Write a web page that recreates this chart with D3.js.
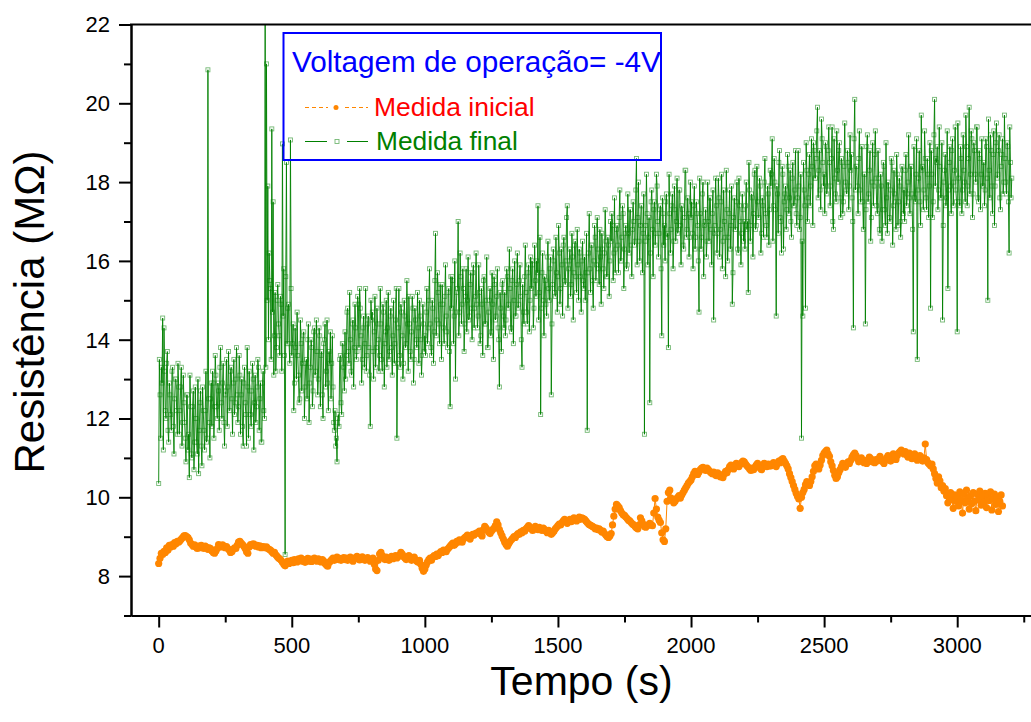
<!DOCTYPE html>
<html>
<head>
<meta charset="utf-8">
<script src="https://cdn.jsdelivr.net/npm/d3@7"></script>
<style>
  html, body { margin: 0; padding: 0; background: #fff; }
  svg { display: block; font-family: Arial, "Liberation Sans", sans-serif; }
</style>
</head>
<body>
<svg id="chart" width="1031" height="722"></svg>
<script>
// Sampling interval (s) of each measurement run
const inicialStep = 5;
const finalStep = 2.5;

// Medida inicial: resistance (MΩ), one reading every 5 s from t = 0
const inicialValues = [
  8.32, 8.45, 8.58, 8.55, 8.63, 8.60, 8.72, 8.66, 8.78, 8.74, 8.80, 8.76, 8.85, 8.82, 8.88, 8.86, 8.90, 8.94, 8.98, 9.02,
  9.03, 9.00, 8.98, 8.92, 8.84, 8.80, 8.76, 8.79, 8.74, 8.70, 8.76, 8.72, 8.78, 8.74, 8.70, 8.76, 8.73, 8.68, 8.72, 8.70,
  8.64, 8.60, 8.58, 8.64, 8.70, 8.80, 8.78, 8.74, 8.79, 8.76, 8.72, 8.75, 8.70, 8.66, 8.60, 8.62, 8.68, 8.72, 8.70, 8.78,
  8.86, 8.88, 8.84, 8.80, 8.76, 8.70, 8.62, 8.58, 8.74, 8.80, 8.78, 8.82, 8.80, 8.76, 8.78, 8.74, 8.77, 8.72, 8.75, 8.74,
  8.72, 8.74, 8.70, 8.68, 8.66, 8.62, 8.58, 8.60, 8.54, 8.50, 8.46, 8.44, 8.40, 8.35, 8.30, 8.26, 8.34, 8.38, 8.32, 8.36,
  8.40, 8.34, 8.42, 8.38, 8.36, 8.44, 8.40, 8.46, 8.38, 8.42, 8.35, 8.40, 8.45, 8.38, 8.43, 8.37, 8.41, 8.46, 8.42, 8.38,
  8.44, 8.40, 8.36, 8.42, 8.38, 8.32, 8.28, 8.25, 8.34, 8.38, 8.42, 8.46, 8.40, 8.44, 8.48, 8.42, 8.45, 8.40, 8.44, 8.47,
  8.42, 8.46, 8.40, 8.45, 8.48, 8.43, 8.38, 8.44, 8.47, 8.50, 8.45, 8.41, 8.46, 8.49, 8.44, 8.40, 8.43, 8.47, 8.42, 8.38,
  8.42, 8.46, 8.30, 8.18, 8.14, 8.40, 8.56, 8.60, 8.52, 8.46, 8.42, 8.48, 8.44, 8.40, 8.46, 8.50, 8.44, 8.48, 8.52, 8.46,
  8.50, 8.54, 8.60, 8.56, 8.50, 8.46, 8.42, 8.48, 8.52, 8.46, 8.40, 8.44, 8.48, 8.42, 8.38, 8.35, 8.40, 8.30, 8.20, 8.12,
  8.18, 8.28, 8.36, 8.42, 8.46, 8.40, 8.48, 8.52, 8.50, 8.56, 8.52, 8.58, 8.62, 8.60, 8.66, 8.64, 8.62, 8.68, 8.72, 8.76,
  8.80, 8.84, 8.78, 8.82, 8.88, 8.86, 8.92, 8.90, 8.86, 8.94, 8.98, 9.00, 9.04, 8.98, 8.94, 9.02, 9.06, 9.04, 9.08, 9.10,
  9.10, 9.14, 9.06, 9.02, 9.18, 9.26, 9.22, 9.16, 9.12, 9.08, 9.14, 9.18, 9.22, 9.28, 9.38, 9.30, 9.18, 9.10, 9.02, 8.94,
  8.86, 8.80, 8.76, 8.82, 8.88, 8.92, 8.96, 9.00, 8.98, 9.04, 9.08, 9.06, 9.12, 9.10, 9.16, 9.14, 9.20, 9.24, 9.28, 9.22,
  9.20, 9.16, 9.22, 9.26, 9.20, 9.18, 9.24, 9.20, 9.16, 9.22, 9.18, 9.14, 9.10, 9.16, 9.12, 9.06, 9.10, 9.14, 9.20, 9.24,
  9.28, 9.32, 9.30, 9.36, 9.40, 9.44, 9.38, 9.34, 9.40, 9.44, 9.38, 9.42, 9.48, 9.44, 9.40, 9.46, 9.50, 9.44, 9.48, 9.46,
  9.44, 9.40, 9.36, 9.32, 9.30, 9.28, 9.26, 9.24, 9.20, 9.22, 9.18, 9.20, 9.16, 9.12, 9.14, 9.08, 9.04, 9.00, 8.98, 9.02,
  9.08, 9.30, 9.52, 9.70, 9.82, 9.78, 9.74, 9.66, 9.60, 9.56, 9.54, 9.50, 9.46, 9.42, 9.40, 9.36, 9.32, 9.30, 9.26, 9.22,
  9.20, 9.30, 9.48, 9.40, 9.32, 9.26, 9.24, 9.28, 9.30, 9.34, 9.30, 9.28, 9.60, 9.97, 9.70, 9.50, 9.42, 9.36, 9.10, 8.92,
  8.88, 9.20, 9.90, 10.12, 10.18, 9.98, 9.92, 9.86, 9.90, 9.96, 10.00, 10.04, 9.98, 10.06, 10.12, 10.18, 10.24, 10.30, 10.36, 10.40,
  10.44, 10.52, 10.60, 10.66, 10.62, 10.58, 10.64, 10.70, 10.74, 10.76, 10.72, 10.68, 10.74, 10.70, 10.66, 10.62, 10.60, 10.64, 10.58, 10.55,
  10.62, 10.58, 10.52, 10.56, 10.50, 10.60, 10.66, 10.62, 10.70, 10.78, 10.82, 10.76, 10.72, 10.80, 10.86, 10.82, 10.78, 10.84, 10.88, 10.92,
  10.90, 10.84, 10.80, 10.76, 10.72, 10.68, 10.74, 10.70, 10.76, 10.82, 10.86, 10.80, 10.74, 10.70, 10.78, 10.86, 10.82, 10.78, 10.84, 10.80,
  10.80, 10.84, 10.88, 10.82, 10.78, 10.86, 10.92, 10.88, 10.96, 10.98, 10.92, 10.86, 10.80, 10.72, 10.60, 10.50, 10.40, 10.30, 10.20, 10.10,
  10.02, 9.96, 9.72, 10.00, 10.12, 10.20, 10.32, 10.40, 10.36, 10.30, 10.40, 10.52, 10.66, 10.80, 10.84, 10.76, 10.72, 10.82, 10.94, 11.06,
  11.12, 11.16, 11.20, 11.10, 11.04, 10.90, 10.80, 10.68, 10.56, 10.48, 10.52, 10.62, 10.70, 10.78, 10.86, 10.82, 10.76, 10.84, 10.90, 10.86,
  10.94, 11.02, 11.08, 11.12, 11.06, 10.98, 10.90, 10.96, 11.00, 10.94, 10.88, 10.92, 10.86, 10.96, 11.02, 10.98, 10.90, 10.94, 10.88, 10.96,
  10.92, 10.98, 11.04, 10.96, 10.90, 10.86, 10.94, 11.00, 11.06, 10.98, 10.92, 11.04, 11.10, 11.02, 10.96, 11.06, 11.12, 11.16, 11.20, 11.14,
  11.10, 11.16, 11.08, 11.02, 11.12, 11.06, 10.98, 11.04, 11.10, 11.00, 10.94, 11.02, 11.06, 10.98, 10.92, 11.00, 11.35, 10.96, 10.88, 10.84,
  10.80, 10.84, 10.72, 10.60, 10.48, 10.36, 10.52, 10.42, 10.24, 10.30, 10.16, 10.22, 10.04, 9.86, 9.98, 10.12, 9.94, 9.72, 10.06, 9.90,
  10.02, 9.78, 10.14, 9.92, 9.60, 10.08, 9.86, 10.18, 9.96, 9.70, 10.04, 9.84, 10.12, 9.90, 9.66, 10.08, 9.94, 10.16, 9.80, 10.02,
  9.88, 10.10, 9.74, 10.04, 9.92, 10.14, 9.68, 9.96, 10.08, 9.82, 10.00, 9.64, 9.90, 10.06, 9.78
];

// Medida final: resistance (MΩ), one reading every 2.5 s from t = 0 (40 readings per row)
const finalValues = [
  10.35, 13.5, 12.6, 11.5, 13.3, 12.9, 14.55, 11.2, 14.3, 13.2, 12.2, 12.0, 13.4, 13.7, 11.7, 11.4, 12.9, 12.6, 12.1, 11.7, 13.2, 13.3, 11.8, 11.1, 12.5, 13.0, 13.0, 12.2, 11.6, 13.4, 12.8, 11.6, 12.2, 12.8, 13.3, 11.3, 11.9, 13.1, 12.4, 11.9,
  11.5, 10.9, 12.6, 12.6, 11.2, 11.6, 10.5, 13.1, 12.3, 11.1, 11.0, 12.3, 12.7, 10.7, 11.4, 12.8, 12.0, 11.4, 11.1, 13.0, 10.6, 11.7, 12.4, 12.7, 11.3, 10.8, 12.8, 12.2, 11.7, 11.2, 12.2, 13.2, 11.4, 11.5, 20.85, 12.5, 11.9, 11.0, 12.5, 12.9,
  11.8, 13.2, 12.9, 11.5, 12.3, 13.6, 13.1, 12.3, 12.0, 12.9, 12.7, 11.7, 13.3, 13.8, 12.4, 12.0, 12.9, 13.4, 11.9, 11.3, 12.6, 12.7, 13.5, 11.8, 12.8, 13.7, 12.2, 12.2, 13.2, 13.3, 12.5, 11.6, 12.9, 13.5, 12.1, 12.4, 13.0, 13.8, 12.6, 11.9,
  12.3, 13.6, 13.1, 11.6, 12.6, 13.0, 11.8, 11.3, 12.9, 13.3, 12.4, 12.1, 11.3, 13.8, 12.8, 11.5, 13.2, 12.7, 12.1, 11.8, 12.7, 13.4, 13.0, 11.2, 12.4, 13.1, 11.9, 12.3, 12.8, 13.5, 13.3, 11.7, 12.5, 12.9, 11.4, 11.4, 12.9, 13.2, 12.2, 12.0,
  23.5, 13.3, 21.0, 15.0, 17.9, 14.0, 16.2, 15.5, 15.3, 13.5, 19.35, 14.7, 17.5, 13.1, 14.1, 15.2, 13.2, 13.8, 15.0, 15.4, 14.4, 14.1, 13.6, 15.1, 14.9, 13.2, 18.97, 14.6, 15.8, 13.6, 8.55, 15.6, 18.5, 13.9, 14.8, 14.9, 13.9, 13.4, 19.07, 15.3,
  13.6, 13.9, 14.4, 12.2, 12.9, 14.3, 13.8, 13.0, 14.7, 13.6, 13.1, 12.4, 12.5, 14.5, 13.9, 12.7, 13.4, 14.1, 14.2, 12.0, 12.8, 13.4, 13.5, 12.5, 14.0, 14.4, 11.9, 12.9, 13.3, 14.0, 13.8, 12.3, 12.7, 14.2, 14.3, 13.1, 13.2, 14.5, 13.7, 12.6,
  13.0, 14.3, 14.1, 12.3, 13.6, 13.7, 12.6, 12.0, 13.9, 14.0, 14.4, 12.8, 13.2, 14.5, 12.9, 12.2, 13.7, 13.4, 14.2, 12.5, 13.4, 14.1, 12.8, 11.9, 11.7, 12.2, 11.3, 11.5, 10.9, 12.0, 12.1, 11.8, 13.5, 13.6, 12.4, 12.1, 13.9, 13.9, 13.3, 12.7,
  14.2, 13.0, 13.6, 14.7, 14.8, 13.7, 13.4, 15.2, 14.0, 13.2, 13.1, 14.4, 14.5, 12.8, 13.8, 14.9, 14.3, 13.5, 13.7, 15.1, 14.9, 13.8, 15.3, 14.8, 14.1, 12.9, 13.5, 14.3, 14.6, 13.3, 13.9, 15.3, 13.2, 13.6, 14.4, 14.6, 13.8, 13.1, 11.8, 15.0,
  14.5, 14.7, 13.7, 13.0, 14.2, 15.1, 13.3, 13.8, 14.8, 14.4, 14.0, 13.2, 13.6, 15.3, 14.4, 13.5, 13.2, 14.9, 14.7, 12.8, 13.9, 14.2, 15.0, 13.3, 14.3, 15.2, 13.5, 13.7, 14.6, 14.8, 13.8, 13.1, 14.1, 15.0, 13.4, 13.9, 14.5, 15.3, 11.5, 13.4,
  14.3, 15.3, 13.6, 13.3, 14.9, 14.7, 14.1, 13.0, 13.4, 15.0, 14.6, 13.8, 13.9, 15.5, 14.4, 13.2, 15.1, 14.4, 13.7, 13.5, 14.2, 15.1, 14.8, 12.9, 13.5, 14.8, 14.5, 14.0, 13.8, 15.2, 14.3, 13.4, 15.0, 14.6, 14.0, 13.1, 13.6, 14.9, 14.4, 13.7,
  14.1, 13.6, 14.7, 15.3, 13.9, 14.3, 15.0, 15.8, 14.4, 13.8, 13.6, 15.0, 14.8, 13.4, 14.2, 15.5, 16.7, 14.1, 14.5, 15.7, 15.2, 14.4, 13.9, 15.4, 14.9, 13.5, 15.4, 14.9, 14.3, 13.9, 15.1, 15.9, 14.6, 14.2, 13.8, 15.2, 15.3, 13.7, 12.3, 15.6,
  14.8, 15.6, 15.5, 13.9, 14.6, 16.0, 13.0, 14.7, 15.2, 15.3, 17.0, 14.1, 14.7, 16.2, 15.6, 14.4, 14.9, 15.8, 15.3, 13.7, 14.4, 15.1, 15.8, 14.2, 15.0, 16.1, 14.5, 14.6, 15.4, 15.7, 14.8, 14.0, 15.7, 15.9, 14.3, 14.8, 15.1, 16.2, 14.9, 14.3,
  14.6, 15.9, 15.2, 13.9, 14.1, 15.3, 14.9, 13.6, 15.5, 15.6, 14.4, 14.4, 15.0, 16.1, 13.8, 13.8, 14.7, 15.0, 15.3, 14.1, 14.2, 15.7, 14.9, 13.5, 15.6, 15.4, 14.5, 14.6, 15.1, 15.8, 14.3, 14.0, 12.8, 15.2, 14.8, 13.7, 15.4, 15.5, 14.6, 14.3,
  15.2, 14.1, 14.5, 15.8, 15.6, 14.8, 14.9, 16.3, 15.3, 14.3, 14.2, 15.5, 15.8, 13.9, 15.0, 16.0, 14.6, 14.6, 15.4, 16.2, 14.8, 14.9, 15.5, 15.9, 15.1, 14.0, 13.3, 15.4, 14.7, 14.4, 15.6, 16.4, 15.2, 14.7, 14.4, 15.7, 15.9, 14.2, 15.0, 16.1,
  15.3, 16.0, 15.9, 14.3, 14.8, 16.4, 15.5, 15.1, 16.0, 15.7, 17.4, 14.5, 15.2, 16.6, 12.1, 14.8, 15.7, 16.2, 15.0, 14.1, 15.6, 15.5, 14.9, 14.6, 16.1, 16.5, 15.3, 15.0, 15.8, 16.1, 12.6, 14.4, 15.4, 16.3, 16.0, 15.2, 15.1, 16.6, 15.7, 14.7,
  15.6, 16.9, 16.2, 14.9, 15.3, 16.3, 15.9, 14.6, 16.4, 16.6, 15.5, 15.4, 16.0, 17.1, 17.4, 14.8, 15.8, 16.0, 16.3, 15.1, 15.4, 16.7, 16.1, 14.5, 15.7, 16.4, 16.5, 15.6, 15.2, 16.8, 15.9, 15.0, 16.3, 16.2, 15.6, 14.7, 16.0, 16.5, 15.5, 15.3,
  16.1, 15.0, 15.7, 16.7, 11.7, 15.7, 16.2, 17.2, 15.8, 15.2, 16.4, 16.4, 15.5, 14.8, 16.0, 16.9, 16.6, 15.5, 15.9, 17.1, 16.3, 15.8, 15.4, 16.8, 16.1, 14.9, 16.7, 16.3, 15.8, 15.3, 16.2, 17.3, 16.5, 15.6, 15.6, 16.6, 16.4, 15.1, 16.0, 17.0,
  16.5, 17.2, 16.9, 15.5, 16.2, 17.6, 15.7, 16.3, 16.8, 16.9, 16.4, 15.7, 17.1, 17.8, 16.0, 16.0, 16.6, 17.4, 17.2, 15.3, 16.3, 16.7, 16.9, 15.8, 15.9, 17.7, 16.7, 16.2, 17.3, 17.3, 16.4, 15.6, 16.8, 17.5, 17.0, 16.4, 16.5, 17.8, 18.6, 15.9,
  17.1, 18.0, 16.5, 16.0, 16.9, 17.4, 17.4, 15.7, 16.7, 17.7, 11.6, 16.5, 16.9, 18.2, 17.2, 15.9, 16.6, 17.1, 12.4, 16.2, 17.5, 17.8, 16.8, 15.6, 17.3, 17.5, 16.4, 16.7, 18.2, 17.9, 17.0, 16.1, 16.7, 17.3, 17.4, 15.8, 14.1, 17.6, 17.2, 16.4,
  16.9, 16.0, 17.5, 17.7, 16.6, 16.7, 13.8, 18.2, 17.2, 16.2, 16.8, 17.4, 17.7, 15.8, 16.5, 17.9, 17.3, 16.5, 17.0, 18.1, 16.7, 16.8, 17.8, 17.8, 16.9, 15.9, 17.4, 17.3, 16.4, 16.3, 17.1, 18.3, 18.3, 16.6, 16.8, 17.6, 17.2, 16.1, 16.6, 18.0,
  17.1, 17.5, 16.7, 15.8, 17.4, 17.9, 16.3, 16.6, 17.5, 17.2, 16.9, 16.0, 14.7, 18.1, 17.2, 16.3, 16.6, 17.7, 18.0, 15.6, 16.9, 17.0, 17.3, 16.1, 16.5, 18.0, 17.0, 16.5, 17.6, 17.6, 16.8, 15.9, 17.2, 17.8, 14.5, 16.7, 16.9, 18.1, 17.4, 16.2,
  16.7, 18.1, 17.6, 16.1, 16.8, 17.5, 18.2, 15.8, 16.5, 17.8, 17.0, 16.6, 15.6, 18.3, 17.3, 16.0, 16.6, 17.2, 17.8, 16.3, 16.9, 17.9, 14.9, 15.7, 17.1, 17.6, 16.8, 16.8, 17.5, 18.0, 16.3, 16.2, 18.1, 17.4, 17.0, 15.9, 16.7, 17.7, 17.3, 16.5,
  17.0, 16.3, 17.4, 18.0, 16.8, 17.0, 15.2, 18.5, 17.8, 16.5, 16.9, 17.7, 17.6, 16.1, 17.2, 18.2, 18.3, 16.8, 16.9, 18.4, 17.5, 17.1, 17.1, 18.1, 17.9, 16.2, 16.7, 17.6, 17.4, 16.6, 18.0, 18.6, 17.2, 16.9, 16.6, 17.9, 17.7, 16.4, 17.3, 18.3,
  17.9, 18.2, 19.1, 16.5, 17.4, 18.6, 18.0, 17.3, 14.6, 17.9, 17.7, 16.7, 18.5, 18.8, 17.1, 17.0, 16.2, 18.4, 18.2, 16.3, 17.5, 17.7, 17.9, 16.8, 17.3, 18.7, 18.4, 17.2, 17.6, 18.3, 17.0, 16.6, 18.1, 18.5, 17.4, 17.4, 17.8, 18.8, 17.2, 16.9,
  17.6, 18.8, 17.9, 16.8, 17.1, 18.2, 11.5, 16.5, 14.6, 18.5, 17.8, 17.4, 14.8, 19.0, 18.3, 17.0, 17.6, 18.2, 18.7, 17.4, 17.9, 19.1, 18.4, 16.9, 19.0, 18.8, 18.1, 18.1, 18.6, 19.3, 19.9, 17.6, 18.3, 18.8, 17.8, 17.3, 19.6, 19.1, 18.5, 17.9,
  18.2, 17.2, 19.0, 18.9, 17.7, 17.9, 18.8, 19.4, 18.5, 17.4, 17.9, 18.6, 19.4, 17.0, 16.8, 19.1, 18.1, 17.7, 17.5, 19.3, 18.3, 18.0, 18.8, 19.0, 17.6, 17.1, 18.6, 18.5, 17.2, 17.5, 18.4, 19.5, 18.0, 17.8, 17.7, 18.8, 18.5, 17.3, 17.9, 19.2,
  18.3, 18.7, 17.6, 17.0, 14.3, 19.1, 20.1, 17.8, 18.4, 18.4, 17.9, 17.2, 18.6, 19.3, 17.8, 17.5, 18.9, 18.9, 17.5, 16.8, 18.2, 18.2, 14.4, 17.3, 18.9, 19.2, 17.5, 17.7, 18.3, 18.8, 16.5, 17.1, 18.0, 19.0, 17.4, 17.9, 18.7, 19.3, 18.1, 17.4,
  17.2, 18.8, 18.1, 16.8, 16.7, 18.2, 17.9, 16.5, 17.3, 18.5, 18.4, 17.3, 16.9, 19.0, 17.6, 16.7, 18.0, 17.9, 17.1, 17.0, 17.8, 18.6, 18.5, 16.4, 17.4, 18.3, 17.7, 17.5, 16.8, 18.7, 18.2, 16.9, 17.5, 18.1, 17.9, 16.6, 17.0, 18.4, 18.3, 17.2,
  17.8, 17.0, 18.3, 18.7, 17.4, 17.7, 18.0, 19.2, 17.6, 17.2, 18.4, 18.4, 17.7, 16.8, 14.2, 18.9, 17.6, 17.5, 18.2, 19.1, 13.5, 17.8, 18.1, 18.8, 17.5, 16.9, 19.7, 18.3, 18.4, 17.3, 17.8, 19.3, 18.6, 17.6, 17.3, 18.6, 18.2, 17.1, 17.9, 19.0,
  14.8, 18.8, 18.2, 17.1, 17.5, 19.2, 20.1, 17.9, 18.6, 18.5, 18.9, 17.3, 17.8, 19.4, 18.4, 17.6, 17.6, 19.0, 14.5, 16.9, 18.0, 18.3, 18.7, 17.4, 17.6, 19.3, 15.3, 17.8, 18.5, 18.9, 17.9, 17.2, 18.8, 19.1, 17.4, 18.0, 18.3, 19.4, 17.8, 17.5,
  14.2, 19.5, 18.1, 17.5, 17.4, 18.9, 18.6, 17.2, 17.8, 19.2, 18.3, 18.0, 17.5, 19.7, 18.9, 17.4, 17.9, 18.6, 19.9, 17.7, 18.2, 19.3, 19.1, 17.1, 17.7, 19.0, 18.8, 18.2, 18.0, 19.4, 19.4, 17.6, 17.5, 18.8, 18.6, 17.3, 18.2, 19.1, 17.9, 17.9,
  18.5, 17.4, 17.8, 19.1, 18.9, 18.1, 15.0, 19.6, 18.3, 17.6, 19.2, 18.8, 17.9, 17.2, 18.7, 19.3, 16.9, 17.9, 19.0, 19.5, 18.1, 18.2, 18.8, 19.2, 17.6, 17.3, 18.4, 18.7, 19.1, 17.7, 18.0, 19.7, 18.6, 18.0, 17.7, 19.0, 18.9, 17.5, 16.2, 19.4,
  18.5, 17.6, 18.1
];

// Axis ticks and labels
const xMajorTicks = [0, 500, 1000, 1500, 2000, 2500, 3000];
const xMinorTicks = [250, 750, 1250, 1750, 2250, 2750, 3250];
const yMajorTicks = [8, 10, 12, 14, 16, 18, 20, 22];
const yMinorTicks = [7, 9, 11, 13, 15, 17, 19, 21];

const xTitle = "Tempo (s)";
const yTitle = "Resistência (MΩ)";
const legendTitle = "Voltagem de operação= -4V";
const seriesNames = ["Medida inicial", "Medida final"];

const inicialData = inicialValues.map((v, i) => ({ t: i * inicialStep, v }));
const finalData = finalValues.map((v, i) => ({ t: i * finalStep, v }));

const svg = d3.select("#chart");
const plotLeft = 131, plotRight = 1032, plotTop = 24.5, plotBottom = 615.5;

const x = d3.scaleLinear().domain([-104, 3281]).range([plotLeft, plotRight]);
const y = d3.scaleLinear().domain([7, 22]).range([plotBottom, plotTop]);

const orange = "#ff8600";
const green = "#008000";
const greenSymbol = "#74b874";

svg.append("defs").append("clipPath").attr("id", "plotClip")
  .append("rect")
  .attr("x", plotLeft).attr("y", plotTop)
  .attr("width", plotRight - plotLeft).attr("height", plotBottom - plotTop);

const plot = svg.append("g").attr("clip-path", "url(#plotClip)");

const line = d3.line().x(d => x(d.t)).y(d => y(d.v));

// Medida final: open square markers with the connecting line drawn over them
plot.append("g").selectAll("rect")
  .data(finalData)
  .join("rect")
  .attr("x", d => x(d.t) - 2)
  .attr("y", d => y(d.v) - 2)
  .attr("width", 4)
  .attr("height", 4)
  .attr("fill", "#fff")
  .attr("stroke", greenSymbol)
  .attr("stroke-width", 0.9);

plot.append("path")
  .datum(finalData)
  .attr("d", line)
  .attr("fill", "none")
  .attr("stroke", green)
  .attr("stroke-width", 0.9);

// Medida inicial: line with filled circle markers
plot.append("path")
  .datum(inicialData)
  .attr("d", line)
  .attr("fill", "none")
  .attr("stroke", orange)
  .attr("stroke-width", 1);

plot.append("g").selectAll("circle")
  .data(inicialData)
  .join("circle")
  .attr("cx", d => x(d.t))
  .attr("cy", d => y(d.v))
  .attr("r", 3.6)
  .attr("fill", orange);

// Axes
const axisColor = "#000";
const xAxisMajor = d3.axisBottom(x).tickValues(xMajorTicks).tickSize(12).tickSizeOuter(0).tickFormat("");
const xAxisMinor = d3.axisBottom(x).tickValues(xMinorTicks).tickSize(7).tickSizeOuter(0).tickFormat("");
const yAxisMajor = d3.axisLeft(y).tickValues(yMajorTicks).tickSize(12).tickSizeOuter(0).tickFormat("");
const yAxisMinor = d3.axisLeft(y).tickValues(yMinorTicks).tickSize(7).tickSizeOuter(0).tickFormat("");

function styleAxis(g) {
  g.selectAll("path, line").attr("stroke", axisColor).attr("stroke-width", 2);
}

svg.append("g").attr("transform", `translate(0,${plotBottom})`).call(xAxisMinor).call(styleAxis);
svg.append("g").attr("transform", `translate(0,${plotBottom})`).call(xAxisMajor).call(styleAxis);
svg.append("g").attr("transform", `translate(${plotLeft},0)`).call(yAxisMinor).call(styleAxis);
svg.append("g").attr("transform", `translate(${plotLeft},0)`).call(yAxisMajor).call(styleAxis);

// Top frame line
svg.append("line")
  .attr("x1", plotLeft - 1).attr("x2", plotRight)
  .attr("y1", plotTop).attr("y2", plotTop)
  .attr("stroke", axisColor).attr("stroke-width", 2);

// Tick labels
svg.append("g").selectAll("text")
  .data(xMajorTicks)
  .join("text")
  .attr("x", d => x(d))
  .attr("y", 653)
  .attr("text-anchor", "middle")
  .attr("font-size", 22)
  .attr("fill", "#000")
  .text(d => d);

svg.append("g").selectAll("text")
  .data(yMajorTicks)
  .join("text")
  .attr("x", 110)
  .attr("y", d => y(d))
  .attr("dy", "0.36em")
  .attr("text-anchor", "end")
  .attr("font-size", 22)
  .attr("fill", "#000")
  .text(d => d);

// Axis titles
svg.append("text")
  .attr("x", (plotLeft + plotRight) / 2)
  .attr("y", 695)
  .attr("text-anchor", "middle")
  .attr("font-size", 41)
  .attr("fill", "#000")
  .text(xTitle);

svg.append("text")
  .attr("transform", "translate(43.5,312) rotate(-90)")
  .attr("text-anchor", "middle")
  .attr("font-size", 42)
  .attr("fill", "#000")
  .text(yTitle);

// Legend
const legend = svg.append("g");
legend.append("rect")
  .attr("x", 283.5).attr("y", 33)
  .attr("width", 377.5).attr("height", 127)
  .attr("fill", "none")
  .attr("stroke", "#0000ff")
  .attr("stroke-width", 2);

legend.append("text")
  .attr("x", 292)
  .attr("y", 71.5)
  .attr("font-size", 29.7)
  .attr("fill", "#0000ff")
  .text(legendTitle);

// Medida inicial entry
const ly1 = 107.5;
legend.append("line")
  .attr("x1", 305).attr("x2", 328).attr("y1", ly1).attr("y2", ly1)
  .attr("stroke", orange).attr("stroke-width", 1).attr("stroke-dasharray", "4,3");
legend.append("line")
  .attr("x1", 345).attr("x2", 368).attr("y1", ly1).attr("y2", ly1)
  .attr("stroke", orange).attr("stroke-width", 1).attr("stroke-dasharray", "4,3");
legend.append("circle")
  .attr("cx", 336).attr("cy", ly1).attr("r", 2.5).attr("fill", orange);
legend.append("text")
  .attr("x", 374).attr("y", 115.5)
  .attr("font-size", 26.5)
  .attr("fill", "#ff0000")
  .text(seriesNames[0]);

// Medida final entry
const ly2 = 141.5;
legend.append("line")
  .attr("x1", 305).attr("x2", 327).attr("y1", ly2).attr("y2", ly2)
  .attr("stroke", green).attr("stroke-width", 1);
legend.append("line")
  .attr("x1", 347).attr("x2", 368).attr("y1", ly2).attr("y2", ly2)
  .attr("stroke", green).attr("stroke-width", 1);
legend.append("rect")
  .attr("x", 335).attr("y", ly2 - 2).attr("width", 4).attr("height", 4)
  .attr("fill", "#fff").attr("stroke", greenSymbol).attr("stroke-width", 0.9);
legend.append("text")
  .attr("x", 376).attr("y", 149.5)
  .attr("font-size", 26.3)
  .attr("fill", "#008000")
  .text(seriesNames[1]);
</script>
</body>
</html>
